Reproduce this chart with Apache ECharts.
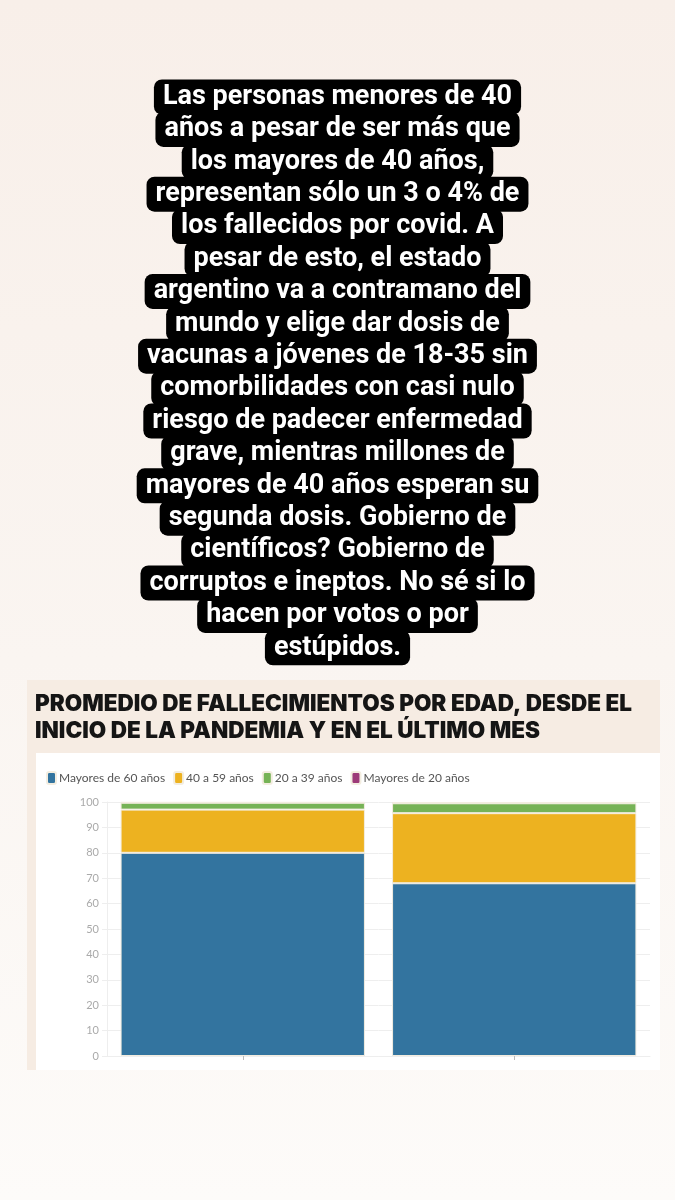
<!DOCTYPE html>
<html><head><meta charset="utf-8">
<script src="https://cdn.jsdelivr.net/npm/echarts@6/dist/echarts.min.js"></script>
<style>html,body{margin:0;padding:0;}#c{width:675px;height:1200px;}</style>
</head><body><div id="c"></div>
<script>
const storyLines = [
  'Las personas menores de 40',
  'años a pesar de ser más que',
  'los mayores de 40 años,',
  'representan sólo un 3 o 4% de',
  'los fallecidos por covid. A',
  'pesar de esto, el estado',
  'argentino va a contramano del',
  'mundo y elige dar dosis de',
  'vacunas a jóvenes de 18-35 sin',
  'comorbilidades con casi nulo',
  'riesgo de padecer enfermedad',
  'grave, mientras millones de',
  'mayores de 40 años esperan su',
  'segunda dosis. Gobierno de',
  'científicos? Gobierno de',
  'corruptos e ineptos. No sé si lo',
  'hacen por votos o por',
  'estúpidos.'
];
const chartTitle = ['PROMEDIO DE FALLECIMIENTOS POR EDAD, DESDE EL', 'INICIO DE LA PANDEMIA Y EN EL ÚLTIMO MES'];
const categories = ['Desde el inicio de la pandemia', 'Último mes'];
const seriesNames = ['Mayores de 60 años', '40 a 59 años', '20 a 39 años', 'Mayores de 20 años'];
const mayores60 = [80, 68];
const de40a59 = [17, 27.6];
const de20a39 = [2.7, 3.9];
const menores20 = [0.3, 0.5];
const yTicks = [0, 10, 20, 30, 40, 50, 60, 70, 80, 90, 100];

const colors = ['#33749f', '#edb220', '#76b356', '#9c3a78'];
const values = [mayores60, de40a59, de20a39, menores20];

const chart = echarts.init(document.getElementById('c'), null, {renderer: 'canvas'});

const graphics = [
  {type: 'rect', z: -10, shape: {x: 0, y: 0, width: 675, height: 1200},
   style: {fill: new echarts.graphic.LinearGradient(0, 0, 0, 1, [
     {offset: 0, color: '#f8efe9'}, {offset: 0.55, color: '#faf5f1'}, {offset: 1, color: '#fdfbf9'}])}},
  {type: 'rect', z: -9, shape: {x: 27, y: 680, width: 633, height: 390}, style: {fill: '#f6ece3'}},
  {type: 'rect', z: -8, shape: {x: 36, y: 753, width: 624, height: 317}, style: {fill: '#ffffff'}}
];
storyLines.forEach((t, i) => {
  graphics.push({
    type: 'text', z: 10 - i * 0.01, x: 337.5, y: 97 + i * 32.4,
    style: {
      text: t, fill: '#ffffff', font: 'bold 27px Roboto', lineHeight: 27, align: 'center', verticalAlign: 'middle',
      backgroundColor: '#000000', padding: [4, 9, 4, 9], borderRadius: 8
    }
  });
});
chartTitle.forEach((t, i) => {
  graphics.push({
    type: 'text', x: 35, y: 704 + i * 27,
    style: {text: t, fill: '#151515', font: '900 22.5px Inter', align: 'left', verticalAlign: 'middle'}
  });
});

chart.setOption({
  animation: false,
  color: colors,
  graphic: graphics,
  legend: {
    left: 41, top: 766, itemWidth: 9, itemHeight: 12, itemGap: 8,
    icon: 'roundRect',
    textStyle: {color: '#555', fontSize: 12, fontFamily: 'Lato', padding: [0, 0, 0, -2]},
    data: seriesNames
  },
  grid: {left: 107, right: 25, top: 802, bottom: 144, containLabel: false},
  xAxis: {
    type: 'category', data: categories,
    axisLine: {show: true, lineStyle: {color: '#eeeeee'}},
    axisTick: {show: true, alignWithLabel: true, length: 4, lineStyle: {color: '#bbbbbb'}},
    axisLabel: {show: false}
  },
  yAxis: {
    type: 'value', min: 0, max: 100, interval: 10,
    axisLine: {show: true, lineStyle: {color: '#eeeeee'}},
    axisTick: {show: true, length: 5, lineStyle: {color: '#eeeeee'}},
    axisLabel: {color: '#aaaaaa', fontSize: 11, fontFamily: 'Lato', margin: 8,
      formatter: v => yTicks.includes(v) ? String(v) : ''},
    splitLine: {lineStyle: {color: '#eeeeee'}}
  },
  series: seriesNames.map((n, k) => ({
    name: n, type: 'bar', stack: 'total', barWidth: '90%', data: values[k],
    itemStyle: {color: colors[k], borderColor: '#f3ede0', borderWidth: 1}
  }))
});
</script></body></html>
